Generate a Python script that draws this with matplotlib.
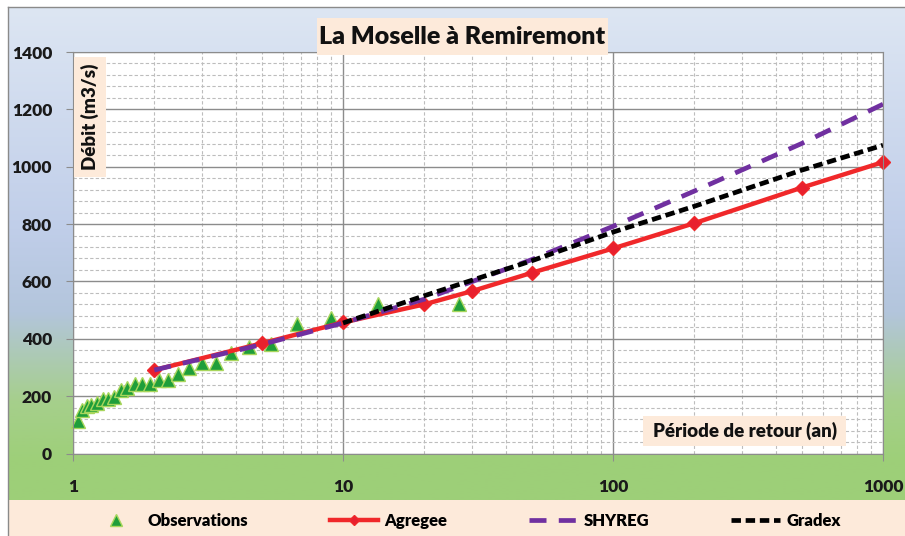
import numpy as np
import matplotlib.pyplot as plt
from matplotlib.ticker import FixedLocator, MultipleLocator, LogLocator, FuncFormatter, NullFormatter
from matplotlib.colors import LinearSegmentedColormap
from matplotlib.patches import Rectangle

plt.rcParams['font.family'] = ['Lato', 'DejaVu Sans']
plt.rcParams['font.weight'] = 'heavy'

## Observations (return period in years, discharge in m3/s)
obs_T = [1.04, 1.08, 1.13, 1.17, 1.23, 1.29, 1.35, 1.42, 1.5, 1.59, 1.69, 1.8, 1.93,
         2.08, 2.25, 2.45, 2.7, 3.0, 3.38, 3.86, 4.5, 5.4, 6.75, 9.0, 13.5, 27.0]
obs_Q = [113, 150, 164, 169, 175, 189, 191, 198, 221, 228, 241, 244, 244,
         256, 256, 277, 297, 316, 316, 351, 372, 381, 453, 471, 520, 520]

## fitted curves
agg_T = [2, 5, 10, 20, 30, 50, 100, 200, 500, 1000]
agg_Q = [291, 384, 457, 520, 566, 630, 715, 803, 927, 1016]

shy_T = [2, 5, 10, 20, 50, 100, 200, 500, 1000]
shy_Q = [291, 380, 455, 538, 676, 792, 915, 1081, 1218]

grd_T = [10, 20, 50, 100, 200, 500, 1000]
grd_Q = [455, 550, 672, 772, 862, 988, 1075]

x_ticks = [1, 10, 100, 1000]
y_ticks = [0, 200, 400, 600, 800, 1000, 1200, 1400]

W, H = 905, 536
PEACH = '#fdeada'
fig = plt.figure(figsize=(W / 100, H / 100), dpi=100)

## background: gradient + legend band
bg = fig.add_axes([0, 0, 1, 1], zorder=-10)
bg.set_xlim(0, W)
bg.set_ylim(H, 0)
bg.axis('off')
cmap = LinearSegmentedColormap.from_list('bg', [
    (0.0, '#dde6f3'), (0.45, '#c0cee9'), (0.62, '#b3c5dc'),
    (0.80, '#a6cf8c'), (0.92, '#9ecf79'), (1.0, '#9dcf78')])
bg.imshow(np.linspace(0, 1, 256)[:, None], extent=[8, W, 500, 7],
          aspect='auto', cmap=cmap, interpolation='bilinear')
bg.add_patch(Rectangle((8, 500), W - 8, 36, color=PEACH, lw=0))
bg.plot([8, W], [7, 7], color='#8a8a8a', lw=1)
bg.plot([8, 8], [7, H], color='#8a8a8a', lw=1)

## main chart
ax = fig.add_axes([73 / W, (H - 453.5) / H, 810 / W, 401.5 / H])
ax.set_facecolor('white')
ax.set_xscale('log')
ax.set_xlim(1, 1000)
ax.set_ylim(0, 1400)
ax.xaxis.set_major_locator(FixedLocator(x_ticks))
ax.xaxis.set_major_formatter(FuncFormatter(lambda v, p: '%d' % v))
ax.xaxis.set_minor_locator(LogLocator(base=10, subs=np.arange(2, 10)))
ax.xaxis.set_minor_formatter(NullFormatter())
ax.yaxis.set_major_locator(FixedLocator(y_ticks))
ax.yaxis.set_minor_locator(MultipleLocator(40))

ax.set_axisbelow(True)
ax.grid(which='major', color='#8c8c8c', lw=1, ls='-')
ax.grid(which='minor', color='#bdbdbd', lw=0.8, ls=(0, (3, 2)))
for s in ax.spines.values():
    s.set_color('#8c8c8c')
ax.tick_params(which='major', length=5, color='#8c8c8c', labelsize=12.5,
               labelcolor='#1a1a1a')
ax.tick_params(axis='y', pad=10)
ax.tick_params(axis='x', pad=13)
ax.tick_params(which='minor', length=0)

ax.plot(obs_T, obs_Q, ls='none', marker='^', ms=10, mfc='#1f9e3a',
        mec='#a8d65c', mew=1, label='Observations', clip_on=False)
ax.plot(agg_T, agg_Q, color='#f0282a', lw=3.2, marker='D', ms=7,
        mfc='#e8202e', mec='#f0282a', label='Agregee', clip_on=False)
ax.plot(shy_T, shy_Q, color='#7030a0', lw=3.4, ls=(0, (3.6, 2.6)), label='SHYREG')
ax.plot(grd_T, grd_Q, color='black', lw=3.4, ls=(0, (2, 1)), label='Gradex')

## overlay boxes (title, axis labels)
ov = fig.add_axes([0, 0, 1, 1], zorder=5)
ov.set_xlim(0, W)
ov.set_ylim(H, 0)
ov.axis('off')
ov.patch.set_alpha(0)

ov.add_patch(Rectangle((317, 18), 291, 37, color=PEACH, lw=0))
ov.text(462.5, 37, 'La Moselle à Remiremont', ha='center', va='center',
        fontsize=18, color='#111111')

ov.add_patch(Rectangle((74, 57), 32, 120, color=PEACH, lw=0))
ov.text(90, 117, 'Débit (m3/s)', ha='center', va='center', rotation=90,
        fontsize=13.5, color='#111111')

ov.add_patch(Rectangle((643, 416), 203, 30, color=PEACH, lw=0))
ov.text(744.5, 431, 'Période de retour (an)', ha='center', va='center',
        fontsize=13.5, color='#111111')

## legend
handles, labels = ax.get_legend_handles_labels()
fig.legend(handles, labels, loc='center', bbox_to_anchor=(466.5 / W, 1 - 521 / H),
           ncol=4, frameon=False, fontsize=12, handlelength=2.9,
           handletextpad=0.4, columnspacing=4.9, markerscale=0.8)

plt.savefig('out.png', dpi=100)
